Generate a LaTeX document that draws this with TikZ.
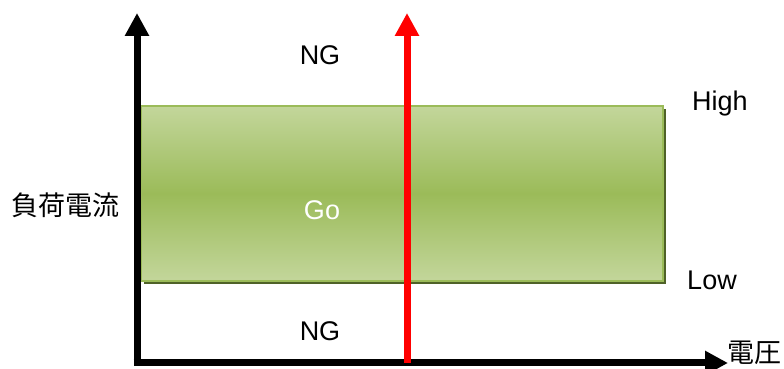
\documentclass[tikz,border=0pt]{standalone}
\usepackage{fontspec}
\setmainfont{Liberation Sans}
\newfontfamily\cjk{Noto Sans CJK JP}
\usetikzlibrary{arrows.meta,shadows}
\definecolor{cverdec}{HTML}{C3D69B}
\definecolor{cverde}{HTML}{9BBB59}
\definecolor{csombra}{HTML}{4F6228}
\definecolor{crojo}{HTML}{FF0000}
\tikzset{
  eje/.style={line width=7pt,draw=black,-{Triangle[length=23pt,width=23pt]}},
  ejer/.style={eje,draw=crojo,fill=crojo},
  et/.style={font=\fontsize{27}{30}\selectfont,inner sep=0pt,text=black},
  etb/.style={et,text=white},
  etj/.style={et,font=\fontsize{27}{30}\selectfont\cjk},
  banda/.style={draw=cverde,line width=1.2pt,minimum width=522pt,minimum height=175pt,
                top color=cverdec,bottom color=cverdec,middle color=cverde,
                general shadow={fill=csombra,shadow xshift=3pt,shadow yshift=-3pt},
                inner sep=0pt},
}
\begin{document}
\begin{tikzpicture}[x=1pt,y=1pt]
\useasboundingbox (0,0) rectangle (784,369);

\node[banda] (go) at (402,175.5) {};
\node[etb] (goet) at (322,159) {Go};

\coordinate (o) at (137,6);
\coordinate (ytop) at (137,356);
\coordinate (xend) at (728,6);
\coordinate (rbot) at (407,6);
\coordinate (rtop) at (407,356);

\draw[eje] (o) -- (ytop);
\draw[eje] ([xshift=-3.5pt]o) -- (xend);
\draw[ejer] (rbot) -- (rtop);

\node[et] (ngalto) at (320,314) {NG};
\node[et] (ngbajo) at (320,38) {NG};
\node[et] (alto) at (720,265) {High};
\node[et] (bajo) at (712,89) {Low};
\node[etj] (corr) at (66,164) {負荷電流};
\node[etj,anchor=west] (volt) at (727,16) {電圧};

\end{tikzpicture}
\end{document}
